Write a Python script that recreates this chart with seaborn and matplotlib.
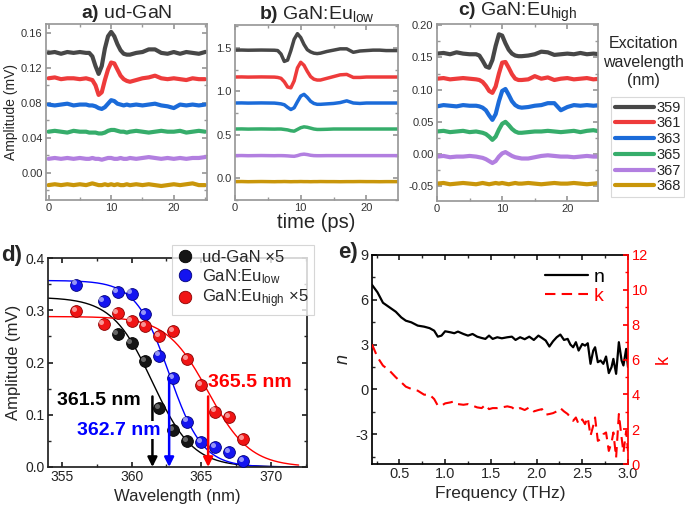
import numpy as np
import pandas as pd
import matplotlib
matplotlib.use("Agg")
import matplotlib.pyplot as plt
import seaborn as sns
from matplotlib.lines import Line2D
from matplotlib.ticker import MultipleLocator, FormatStrFormatter
from matplotlib.transforms import offset_copy

# -----------------------------
# Data
# -----------------------------
wavelengths = ["359", "361", "363", "365", "367", "368"]
trace_colors = ["#474747", "#ee3b3b", "#1b6bd9", "#36ad6b", "#b27fe0", "#c9960a"]

t = [0, 1, 2, 3, 4, 5, 6, 6.5, 7, 7.5, 8, 8.5, 9, 9.5, 10, 10.5, 11, 11.5,
     12, 12.5, 13, 14, 15, 16, 17, 18, 19, 20, 21, 22, 23, 24, 25]

# a) ud-GaN
a359 = [.137, .138, .136, .138, .137, .138, .137, .137, .133, .122, .113, .122, .142, .156, .161, .156, .147,
        .140, .136, .135, .135, .137, .138, .141, .141, .137, .136, .138, .136, .138, .137, .136, .138]
a361 = [.108, .109, .107, .108, .108, .107, .108, .107, .106, .100, .089, .092, .106, .118, .126, .125, .118,
        .111, .107, .105, .104, .106, .108, .109, .111, .108, .107, .108, .107, .106, .108, .107, .107]
a363 = [.078, .077, .078, .079, .077, .078, .078, .077, .077, .076, .074, .073, .075, .079, .083, .082, .079,
        .078, .077, .078, .077, .078, .077, .078, .079, .077, .076, .074, .078, .077, .078, .077, .078]
a365 = [.047, .048, .047, .046, .048, .047, .047, .046, .046, .046, .045, .045, .046, .048, .049, .049, .048,
        .047, .047, .046, .047, .048, .047, .046, .047, .048, .047, .047, .048, .046, .047, .048, .047]
a367 = [.016, .017, .016, .017, .016, .017, .016, .016, .017, .016, .016, .015, .016, .017, .017, .016, .016,
        .017, .016, .016, .017, .016, .017, .018, .017, .016, .017, .016, .017, .016, .017, .017, .018]
a368 = [-.014, -.013, -.014, -.013, -.014, -.013, -.014, -.013, -.012, -.013, -.014, -.014, -.013, -.014,
        -.013, -.014, -.013, -.014, -.014, -.013, -.014, -.013, -.014, -.013, -.014, -.015, -.014, -.013,
        -.014, -.013, -.012, -.014, -.014]

# b) GaN:Eu low
b359 = [1.475, 1.476, 1.474, 1.475, 1.476, 1.475, 1.474, 1.47, 1.43, 1.345, 1.36, 1.47, 1.60, 1.665, 1.62,
        1.54, 1.48, 1.455, 1.44, 1.435, 1.44, 1.46, 1.475, 1.49, 1.49, 1.45, 1.465, 1.47, 1.475, 1.475,
        1.47, 1.47, 1.47]
b361 = [1.165, 1.166, 1.164, 1.165, 1.166, 1.165, 1.164, 1.16, 1.15, 1.11, 1.05, 1.04, 1.12, 1.27, 1.335,
        1.30, 1.23, 1.17, 1.14, 1.13, 1.13, 1.15, 1.17, 1.19, 1.195, 1.16, 1.16, 1.165, 1.165, 1.165,
        1.165, 1.165, 1.165]
b363 = [.865, .866, .864, .865, .866, .865, .864, .86, .855, .845, .815, .79, .81, .88, .945, .965, .93,
        .885, .86, .85, .85, .855, .86, .87, .89, .865, .86, .865, .865, .865, .865, .865, .865]
b365 = [.565, .566, .564, .565, .566, .565, .564, .565, .565, .56, .555, .545, .54, .56, .58, .59, .585,
        .575, .565, .56, .56, .562, .565, .565, .565, .565, .565, .565, .565, .565, .565, .565, .565]
b367 = [.258, .259, .257, .258, .259, .258, .257, .258, .258, .257, .255, .252, .25, .258, .27, .275, .27,
        .262, .258, .257, .257, .258, .258, .258, .258, .258, .258, .258, .258, .258, .258, .258, .258]
b368 = [-.042, -.041, -.043, -.042, -.041, -.042, -.043, -.042, -.042, -.041, -.042, -.043, -.042, -.042,
        -.041, -.042, -.042, -.043, -.042, -.042, -.041, -.042, -.042, -.043, -.042, -.042, -.041, -.042,
        -.042, -.043, -.042, -.042, -.042]

# c) GaN:Eu high
c359 = [.156, .157, .155, .158, .156, .155, .155, .153, .145, .136, .134, .146, .168, .186, .184, .172, .162,
        .156, .153, .152, .152, .153, .155, .159, .158, .154, .155, .156, .155, .157, .155, .156, .155]
c361 = [.117, .118, .116, .117, .118, .117, .116, .115, .112, .106, .098, .095, .105, .125, .142, .143, .134,
        .124, .117, .115, .115, .116, .121, .117, .119, .115, .117, .118, .116, .117, .118, .116, .117]
c363 = [.074, .076, .075, .074, .076, .075, .075, .074, .072, .068, .060, .053, .062, .082, .098, .101, .092,
        .082, .076, .073, .072, .073, .075, .076, .079, .079, .068, .073, .076, .075, .076, .075, .076]
c365 = [.035, .036, .034, .035, .036, .034, .035, .034, .033, .031, .027, .022, .027, .038, .047, .050, .045,
        .039, .035, .033, .033, .034, .035, .035, .036, .035, .034, .035, .036, .034, .036, .037, .035]
c367 = [-.004, -.003, -.005, -.004, -.004, -.003, -.004, -.005, -.006, -.008, -.011, -.014, -.011, -.004,
        .001, .003, .000, -.003, -.005, -.006, -.007, -.007, -.005, -.003, -.002, -.003, -.004, -.004,
        -.005, -.004, -.003, -.004, -.004]
c368 = [-.046, -.045, -.047, -.046, -.045, -.046, -.047, -.046, -.045, -.046, -.047, -.046, -.045, -.046,
        -.045, -.046, -.047, -.046, -.045, -.046, -.046, -.045, -.046, -.047, -.046, -.045, -.046, -.046,
        -.045, -.046, -.047, -.046, -.045]

# d) amplitude vs excitation wavelength
wl_ud = [359, 360, 361, 362, 363, 364]
amp_ud = [0.255, 0.237, 0.202, 0.112, 0.070, 0.049]
wl_eu = [356, 358, 359, 360, 361, 362, 363, 364, 365, 366, 367, 368]
amp_low = [0.349, 0.317, 0.335, 0.332, 0.292, 0.213, 0.170, 0.087, 0.048, 0.038, 0.029, 0.012]
amp_high = [0.298, 0.274, 0.294, 0.279, 0.269, 0.250, 0.260, 0.206, 0.157, 0.106, 0.096, 0.054]
# sigmoid fit parameters (plateau, centre, width)
fit_amp = [0.325, 0.357, 0.288]
fit_center = [361.5, 362.7, 365.5]
fit_width = [1.45, 1.2, 1.5]
arrow_top = [0.135, 0.170, 0.135]
edge_labels = ["361.5 nm", "362.7 nm", "365.5 nm"]

# e) refractive index / extinction
freq = [0.20, 0.26, 0.32, 0.39, 0.46, 0.52, 0.57, 0.63, 0.70, 0.77, 0.83, 0.88, 0.92, 0.96, 1.00, 1.06,
        1.10, 1.14, 1.20, 1.25, 1.30, 1.35, 1.40, 1.44, 1.48, 1.52, 1.57, 1.62, 1.68, 1.73, 1.77, 1.82,
        1.87, 1.92, 1.97, 2.02, 2.06, 2.10, 2.14, 2.18, 2.22, 2.26, 2.30, 2.34, 2.37, 2.40, 2.43, 2.46,
        2.50, 2.53, 2.56, 2.59, 2.62, 2.64, 2.67, 2.70, 2.73, 2.76, 2.79, 2.82, 2.84, 2.87, 2.90, 2.93,
        2.95, 2.98, 3.00]
n_vals = [7.0, 6.5, 5.8, 5.5, 5.2, 4.82, 4.6, 4.49, 4.27, 4.2, 4.1, 3.93, 3.53, 3.6, 3.89, 3.82, 3.76,
          3.87, 3.71, 3.6, 3.71, 3.53, 3.44, 3.38, 3.6, 3.38, 3.49, 3.42, 3.49, 3.53, 3.31, 3.49, 3.36,
          3.53, 3.31, 3.6, 3.44, 3.27, 2.87, 3.22, 3.49, 3.67, 3.31, 3.38, 3.0, 2.82, 3.16, 2.6, 3.04,
          2.93, 3.09, 1.71, 2.6, 2.82, 1.82, 1.93, 1.71, 2.2, 1.09, 1.49, 2.04, 1.04, 3.16, 1.93, 1.6,
          2.71, 1.49]
k_vals = [6.87, 6.13, 5.65, 5.37, 4.98, 4.69, 4.44, 4.31, 4.21, 3.98, 3.98, 3.73, 3.35, 3.35, 3.48, 3.54,
          3.6, 3.44, 3.4, 3.44, 3.35, 3.25, 3.21, 3.4, 3.15, 3.21, 3.21, 3.25, 3.31, 3.25, 3.1, 3.21, 3.1,
          3.25, 3.02, 3.1, 3.15, 2.83, 2.87, 2.92, 3.02, 3.21, 3.02, 2.87, 2.67, 2.48, 2.67, 2.29, 2.56,
          2.29, 2.67, 1.62, 2.2, 2.67, 1.33, 1.42, 1.71, 1.81, 0.75, 1.23, 1.81, 0.37, 2.87, 1.52, 0.65,
          1.9, 0.75]

# -----------------------------
# Style
# -----------------------------
sns.set_theme(style="ticks")
plt.rcParams["font.family"] = ["Liberation Sans", "DejaVu Sans"]
plt.rcParams.update({
    "mathtext.fontset": "custom",
    "mathtext.rm": "Liberation Sans",
    "mathtext.it": "Liberation Sans:italic",
    "mathtext.bf": "Liberation Sans:bold",
    "axes.unicode_minus": False,
    "xtick.direction": "in", "ytick.direction": "in",
    "xtick.top": True, "ytick.right": True,
    "xtick.major.size": 3.5, "ytick.major.size": 3.5,
    "xtick.minor.size": 2, "ytick.minor.size": 2,
    "xtick.major.pad": 2.5, "ytick.major.pad": 2.5,
})

W, H = 685, 509
fig = plt.figure(figsize=(W / 100, H / 100), dpi=100)


def box(l, t_, r, b):
    return [l / W, 1 - b / H, (r - l) / W, (b - t_) / H]


ax_a = fig.add_axes(box(46, 24, 207, 200))
ax_b = fig.add_axes(box(235, 25, 398, 200))
ax_c = fig.add_axes(box(437, 24, 598, 201))
ax_d = fig.add_axes(box(48, 258, 307, 467))
ax_e = fig.add_axes(box(372, 255, 628, 464))

palette = dict(zip(wavelengths, trace_colors))

# -----------------------------
# Panels a-c: time traces
# -----------------------------
panels = [
    (ax_a, [a359, a361, a363, a365, a367, a368], r"$\mathbf{a)}$ ud-GaN", (-0.4, 25.3), (-0.031, 0.170),
     0.04, "%.2f", 3.0),
    (ax_b, [b359, b361, b363, b365, b367, b368], r"$\mathbf{b)}$ GaN:Eu$_{\mathrm{low}}$", (0, 24.8),
     (-0.254, 1.765), 0.5, "%.1f", 2.5),
    (ax_c, [c359, c361, c363, c365, c367, c368], r"$\mathbf{c)}$ GaN:Eu$_{\mathrm{high}}$", (0, 24.7),
     (-0.073, 0.202), 0.05, "%.2f", 3.0),
]
for ax, traces, title, xl, yl, ystep, fmt, lw in panels:
    df = pd.DataFrame({
        "time": t * len(traces),
        "amp": sum(traces, []),
        "wl": np.repeat(wavelengths, len(t)),
    })
    sns.lineplot(data=df, x="time", y="amp", hue="wl", hue_order=wavelengths, palette=palette,
                 lw=lw, legend=False, ax=ax)
    ax.set_xlim(*xl)
    ax.set_ylim(*yl)
    ax.xaxis.set_major_locator(MultipleLocator(10))
    ax.xaxis.set_minor_locator(MultipleLocator(5))
    ax.yaxis.set_major_locator(MultipleLocator(ystep))
    ax.yaxis.set_minor_locator(MultipleLocator(ystep / 2))
    ax.yaxis.set_major_formatter(FormatStrFormatter(fmt))
    ax.tick_params(labelsize=8, colors="#333333")
    ax.tick_params(which="both", color="#999999")
    for s in ax.spines.values():
        s.set_color("#999999")
    ax.set_xlabel("")
    ax.set_ylabel("")
    ax.set_title(title, fontsize=14, pad=3)

ax_a.set_ylabel("Amplitude (mV)", fontsize=10, labelpad=2)
ax_b.set_xlabel("time (ps)", fontsize=14.5, labelpad=0)

fig.text(643 / W, 1 - 62 / H, "Excitation\nwavelength\n(nm)", ha="center", va="center",
         fontsize=11.5, linespacing=1.25)
handles = [Line2D([], [], color=c, lw=3) for c in trace_colors]
leg = fig.legend(handles, wavelengths, loc="upper left", bbox_to_anchor=(611 / W, 1 - 97 / H),
                 frameon=True, fancybox=False, fontsize=10.5, handlelength=2.7, handletextpad=0.15,
                 labelspacing=0.12, borderpad=0.25, borderaxespad=0)
leg.get_frame().set_edgecolor("#d0d0d0")
leg.get_frame().set_linewidth(0.8)

# -----------------------------
# Panel d: amplitude vs wavelength
# -----------------------------
d_colors = ["#151515", "#1414f0", "#f01414"]
d_edges = ["#000000", "#00007a", "#8a0000"]
line_colors = ["black", "blue", "red"]
series = [(wl_ud, amp_ud), (wl_eu, amp_low), (wl_eu, amp_high)]
grid = np.linspace(354, 372, 300)
hl = offset_copy(ax_d.transData, fig=fig, x=-1.6, y=1.6, units="points")
for i, (xs, ys) in enumerate(series):
    fit = fit_amp[i] / (1 + np.exp((grid - fit_center[i]) / fit_width[i]))
    sns.lineplot(x=grid, y=fit, color=line_colors[i], lw=1.0, ax=ax_d, zorder=2)
    sns.scatterplot(x=xs, y=ys, color=d_colors[i], edgecolor=d_edges[i], linewidth=0.6, s=72,
                    ax=ax_d, zorder=3)
    ax_d.scatter(xs, ys, s=13, color="white", alpha=0.55 if i else 0.35, linewidths=0,
                 transform=hl, zorder=4)

text_x = [354.64, 356.1, 365.5]
text_y = [0.128, 0.0705, 0.162]
for i in range(3):
    ax_d.annotate("", xy=(fit_center[i], 0), xytext=(fit_center[i], arrow_top[i]),
                  arrowprops=dict(arrowstyle="-|>", color=line_colors[i], lw=1.8, mutation_scale=14,
                                  shrinkA=0, shrinkB=0), zorder=4)
for i in range(3):
    kw = dict(bbox=dict(fc="white", ec="none", pad=0.5)) if i == 1 else {}
    ax_d.text(text_x[i], text_y[i], edge_labels[i], color=line_colors[i], fontsize=14,
              fontweight="bold", va="center", ha="left", zorder=5, **kw)

ax_d.set_xlim(354, 372.6)
ax_d.set_ylim(0, 0.4)
ax_d.xaxis.set_major_locator(MultipleLocator(5))
ax_d.xaxis.set_minor_locator(MultipleLocator(2.5))
ax_d.yaxis.set_major_locator(MultipleLocator(0.1))
ax_d.yaxis.set_minor_locator(MultipleLocator(0.05))
ax_d.yaxis.set_major_formatter(FormatStrFormatter("%.1f"))
ax_d.tick_params(labelsize=10, colors="#222222")
ax_d.set_xlabel("Wavelength (nm)", fontsize=12, labelpad=3)
ax_d.set_ylabel("Amplitude (mV)", fontsize=12, labelpad=3)
for s in ax_d.spines.values():
    s.set_color("#222222")

d_handles = [Line2D([], [], marker="o", ls="", markersize=9, markerfacecolor=d_colors[i],
                    markeredgecolor=d_edges[i], markeredgewidth=0.6) for i in range(3)]
d_labels = [u"ud-GaN \u00d75", r"GaN:Eu$_{\mathrm{low}}$", u"GaN:Eu$_{\\mathrm{high}}$ \u00d75"]
dleg = ax_d.legend(d_handles, d_labels, loc="upper left", bbox_to_anchor=(0.479, 1.062), frameon=True,
                   fancybox=False, fontsize=12, handlelength=1.0, handletextpad=0.5, labelspacing=0.12,
                   borderpad=0.3, borderaxespad=0)
dleg.get_frame().set_edgecolor("#cccccc")
dleg.get_frame().set_linewidth(0.8)
dleg.set_zorder(10)

# -----------------------------
# Panel e: n and k
# -----------------------------
sns.lineplot(x=freq, y=n_vals, color="black", lw=1.6, ax=ax_e, legend=False)
ax_k = ax_e.twinx()
sns.lineplot(x=freq, y=k_vals, color="red", lw=1.5, linestyle=(0, (5, 3)), ax=ax_k, legend=False)

ax_e.set_xlim(0.2, 3.0)
ax_e.set_ylim(-5, 9)
ax_k.set_ylim(0, 12)
ax_e.xaxis.set_major_locator(MultipleLocator(0.5))
ax_e.xaxis.set_minor_locator(MultipleLocator(0.25))
ax_e.yaxis.set_major_locator(MultipleLocator(3))
ax_e.yaxis.set_minor_locator(MultipleLocator(1.5))
ax_k.yaxis.set_major_locator(MultipleLocator(2))
ax_k.yaxis.set_minor_locator(MultipleLocator(1))
ax_e.xaxis.set_major_formatter(FormatStrFormatter("%.1f"))
ax_e.tick_params(axis="y", right=False, labelsize=10.5)
ax_e.tick_params(axis="x", labelsize=10.5)
ax_k.tick_params(axis="y", which="both", colors="red", labelsize=10.5)
ax_e.spines["right"].set_visible(False)
ax_k.spines["right"].set_color("red")
for s in ["left", "top", "bottom"]:
    ax_e.spines[s].set_color("black")
    ax_k.spines[s].set_visible(False)
ax_e.set_xlabel("Frequency (THz)", fontsize=12.5, labelpad=3)
ax_e.set_ylabel("n", fontsize=13, style="italic", labelpad=3)
ax_k.set_ylabel("k", fontsize=13, color="red", labelpad=5)

e_handles = [ax_e.get_lines()[0], ax_k.get_lines()[0]]
ax_k.legend(e_handles, ["n", "k"], loc="upper right", bbox_to_anchor=(0.94, 0.975), frameon=False,
            fontsize=14, labelcolor=["black", "red"], handlelength=2.2, handletextpad=0.3,
            labelspacing=0.1, borderaxespad=0)

fig.text(1 / W, 1 - 256 / H, "d)", fontsize=16, fontweight="bold", va="center", ha="left")
fig.text(338 / W, 1 - 253 / H, "e)", fontsize=16, fontweight="bold", va="center", ha="left")

fig.savefig("out.png", dpi=100)
